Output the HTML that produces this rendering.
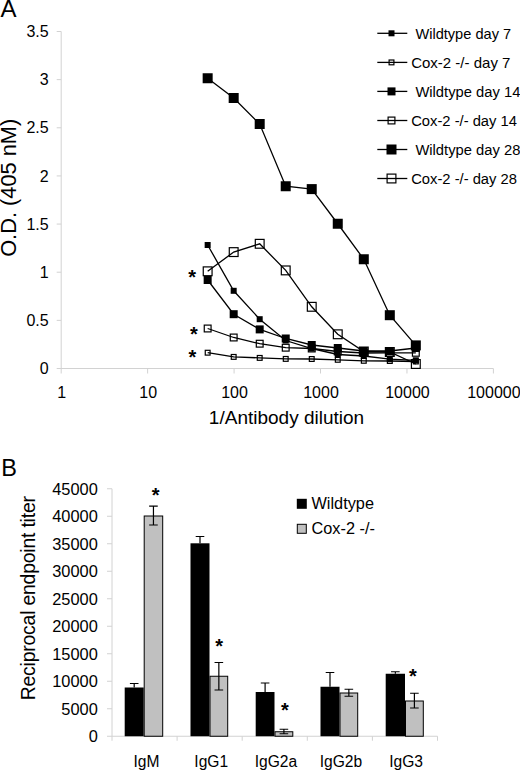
<!DOCTYPE html>
<html><head><meta charset="utf-8"><title>Figure</title>
<style>
html,body{margin:0;padding:0;background:#fff;}
body{width:520px;height:770px;overflow:hidden;}
svg{display:block;}
text{font-family:"Liberation Sans",sans-serif;fill:#000;}
</style></head><body>
<svg width="520" height="770" viewBox="0 0 520 770">
<rect width="520" height="770" fill="#fff"/>
<g stroke="#d2d2d2" stroke-width="1" fill="none">
<path d="M61.2 31.5 V373.5"/>
<path d="M56.7 368.5 H493.4"/>
<path d="M56.7 320.36 H61.2"/>
<path d="M56.7 272.21 H61.2"/>
<path d="M56.7 224.07 H61.2"/>
<path d="M56.7 175.93 H61.2"/>
<path d="M56.7 127.79 H61.2"/>
<path d="M56.7 79.64 H61.2"/>
<path d="M56.7 31.50 H61.2"/>
<path d="M147.64 368.5 V373.5"/>
<path d="M234.08 368.5 V373.5"/>
<path d="M320.52 368.5 V373.5"/>
<path d="M406.96 368.5 V373.5"/>
<path d="M493.40 368.5 V373.5"/>
</g>
<g font-size="16" text-anchor="end">
<text x="48.7" y="374.20">0</text>
<text x="48.7" y="326.06">0.5</text>
<text x="48.7" y="277.91">1</text>
<text x="48.7" y="229.77">1.5</text>
<text x="48.7" y="181.63">2</text>
<text x="48.7" y="133.49">2.5</text>
<text x="48.7" y="85.34">3</text>
<text x="48.7" y="37.20">3.5</text>
</g>
<g font-size="16" text-anchor="middle">
<text x="61.70" y="397.6">1</text>
<text x="148.14" y="397.6">10</text>
<text x="234.58" y="397.6">100</text>
<text x="321.02" y="397.6">1000</text>
<text x="407.46" y="397.6">10000</text>
<text x="493.90" y="397.6">100000</text>
</g>
<text x="286.5" y="423.6" font-size="19" text-anchor="middle">1/Antibody dilution</text>
<text transform="translate(16.2,187.8) rotate(-90)" font-size="21.8" text-anchor="middle">O.D. (405 nM)</text>
<text x="0.5" y="17.2" font-size="24">A</text>
<polyline points="207.66,352.70 233.68,356.90 259.70,357.90 285.72,358.90 311.74,359.00 337.76,359.80 363.79,360.80 389.81,361.00 415.83,361.50" fill="none" stroke="#000" stroke-width="1.3"/>
<rect x="205.26" y="350.30" width="4.8" height="4.8" fill="none" stroke="#000" stroke-width="1.2"/>
<rect x="231.28" y="354.50" width="4.8" height="4.8" fill="none" stroke="#000" stroke-width="1.2"/>
<rect x="257.30" y="355.50" width="4.8" height="4.8" fill="none" stroke="#000" stroke-width="1.2"/>
<rect x="283.32" y="356.50" width="4.8" height="4.8" fill="none" stroke="#000" stroke-width="1.2"/>
<rect x="309.34" y="356.60" width="4.8" height="4.8" fill="none" stroke="#000" stroke-width="1.2"/>
<rect x="335.36" y="357.40" width="4.8" height="4.8" fill="none" stroke="#000" stroke-width="1.2"/>
<rect x="361.39" y="358.40" width="4.8" height="4.8" fill="none" stroke="#000" stroke-width="1.2"/>
<rect x="387.41" y="358.60" width="4.8" height="4.8" fill="none" stroke="#000" stroke-width="1.2"/>
<rect x="413.43" y="359.10" width="4.8" height="4.8" fill="none" stroke="#000" stroke-width="1.2"/>
<polyline points="207.66,245.00 233.68,290.80 259.70,319.20 285.72,340.50 311.74,348.50 337.76,354.50 363.79,356.00 389.81,359.20 415.83,360.30" fill="none" stroke="#000" stroke-width="1.3"/>
<rect x="204.66" y="242.00" width="6" height="6" fill="#000"/>
<rect x="230.68" y="287.80" width="6" height="6" fill="#000"/>
<rect x="256.70" y="316.20" width="6" height="6" fill="#000"/>
<rect x="282.72" y="337.50" width="6" height="6" fill="#000"/>
<rect x="308.74" y="345.50" width="6" height="6" fill="#000"/>
<rect x="334.76" y="351.50" width="6" height="6" fill="#000"/>
<rect x="360.79" y="353.00" width="6" height="6" fill="#000"/>
<rect x="386.81" y="356.20" width="6" height="6" fill="#000"/>
<rect x="412.83" y="357.30" width="6" height="6" fill="#000"/>
<polyline points="207.66,328.50 233.68,337.50 259.70,343.70 285.72,347.70 311.74,348.50 337.76,351.50 363.79,353.00 389.81,352.80 415.83,352.80" fill="none" stroke="#000" stroke-width="1.3"/>
<rect x="204.26" y="325.10" width="6.8" height="6.8" fill="none" stroke="#000" stroke-width="1.2"/>
<rect x="230.28" y="334.10" width="6.8" height="6.8" fill="none" stroke="#000" stroke-width="1.2"/>
<rect x="256.30" y="340.30" width="6.8" height="6.8" fill="none" stroke="#000" stroke-width="1.2"/>
<rect x="282.32" y="344.30" width="6.8" height="6.8" fill="none" stroke="#000" stroke-width="1.2"/>
<rect x="308.34" y="345.10" width="6.8" height="6.8" fill="none" stroke="#000" stroke-width="1.2"/>
<rect x="334.36" y="348.10" width="6.8" height="6.8" fill="none" stroke="#000" stroke-width="1.2"/>
<rect x="360.39" y="349.60" width="6.8" height="6.8" fill="none" stroke="#000" stroke-width="1.2"/>
<rect x="386.41" y="349.40" width="6.8" height="6.8" fill="none" stroke="#000" stroke-width="1.2"/>
<rect x="412.43" y="349.40" width="6.8" height="6.8" fill="none" stroke="#000" stroke-width="1.2"/>
<polyline points="207.66,280.00 233.68,314.20 259.70,329.40 285.72,338.50 311.74,345.00 337.76,348.00 363.79,351.00 389.81,351.00 415.83,348.00" fill="none" stroke="#000" stroke-width="1.3"/>
<rect x="203.66" y="276.00" width="8" height="8" fill="#000"/>
<rect x="229.68" y="310.20" width="8" height="8" fill="#000"/>
<rect x="255.70" y="325.40" width="8" height="8" fill="#000"/>
<rect x="281.72" y="334.50" width="8" height="8" fill="#000"/>
<rect x="307.74" y="341.00" width="8" height="8" fill="#000"/>
<rect x="333.76" y="344.00" width="8" height="8" fill="#000"/>
<rect x="359.79" y="347.00" width="8" height="8" fill="#000"/>
<rect x="385.81" y="347.00" width="8" height="8" fill="#000"/>
<rect x="411.83" y="344.00" width="8" height="8" fill="#000"/>
<polyline points="207.66,271.30 233.68,252.10 259.70,243.80 285.72,270.40 311.74,306.80 337.76,334.30 363.79,351.50 389.81,352.00 415.83,364.00" fill="none" stroke="#000" stroke-width="1.3"/>
<rect x="203.26" y="266.90" width="8.8" height="8.8" fill="none" stroke="#000" stroke-width="1.2"/>
<rect x="229.28" y="247.70" width="8.8" height="8.8" fill="none" stroke="#000" stroke-width="1.2"/>
<rect x="255.30" y="239.40" width="8.8" height="8.8" fill="none" stroke="#000" stroke-width="1.2"/>
<rect x="281.32" y="266.00" width="8.8" height="8.8" fill="none" stroke="#000" stroke-width="1.2"/>
<rect x="307.34" y="302.40" width="8.8" height="8.8" fill="none" stroke="#000" stroke-width="1.2"/>
<rect x="333.36" y="329.90" width="8.8" height="8.8" fill="none" stroke="#000" stroke-width="1.2"/>
<rect x="359.39" y="347.10" width="8.8" height="8.8" fill="none" stroke="#000" stroke-width="1.2"/>
<rect x="385.41" y="347.60" width="8.8" height="8.8" fill="none" stroke="#000" stroke-width="1.2"/>
<rect x="411.43" y="359.60" width="8.8" height="8.8" fill="none" stroke="#000" stroke-width="1.2"/>
<polyline points="207.66,78.25 233.68,98.00 259.70,124.00 285.72,186.25 311.74,189.10 337.76,223.75 363.79,259.25 389.81,315.20 415.83,345.40" fill="none" stroke="#000" stroke-width="1.3"/>
<rect x="202.66" y="73.25" width="10" height="10" fill="#000"/>
<rect x="228.68" y="93.00" width="10" height="10" fill="#000"/>
<rect x="254.70" y="119.00" width="10" height="10" fill="#000"/>
<rect x="280.72" y="181.25" width="10" height="10" fill="#000"/>
<rect x="306.74" y="184.10" width="10" height="10" fill="#000"/>
<rect x="332.76" y="218.75" width="10" height="10" fill="#000"/>
<rect x="358.79" y="254.25" width="10" height="10" fill="#000"/>
<rect x="384.81" y="310.20" width="10" height="10" fill="#000"/>
<rect x="410.83" y="340.40" width="10" height="10" fill="#000"/>
<text x="192.1" y="283.7" font-size="20" font-weight="bold" text-anchor="middle">*</text>
<text x="193.8" y="340.5" font-size="20" font-weight="bold" text-anchor="middle">*</text>
<text x="192.5" y="363.9" font-size="20" font-weight="bold" text-anchor="middle">*</text>
<path d="M377.3 33.3 H407.3" stroke="#000" stroke-width="1.3"/>
<rect x="388.50" y="30.30" width="6" height="6" fill="#000"/>
<text x="415.4" y="38.50" font-size="14.6">Wildtype day 7</text>
<path d="M377.3 62.4 H407.3" stroke="#000" stroke-width="1.3"/>
<rect x="389.10" y="60.00" width="4.8" height="4.8" fill="none" stroke="#000" stroke-width="1.2"/>
<text x="411.2" y="67.60" font-size="15.0">Cox-2 -/- day 7</text>
<path d="M377.3 91.4 H407.3" stroke="#000" stroke-width="1.3"/>
<rect x="387.50" y="87.40" width="8" height="8" fill="#000"/>
<text x="415.4" y="96.60" font-size="14.75">Wildtype day 14</text>
<path d="M377.3 120.5 H407.3" stroke="#000" stroke-width="1.3"/>
<rect x="388.10" y="117.10" width="6.8" height="6.8" fill="none" stroke="#000" stroke-width="1.2"/>
<text x="411.2" y="125.70" font-size="14.75">Cox-2 -/- day 14</text>
<path d="M377.3 149.5 H407.3" stroke="#000" stroke-width="1.3"/>
<rect x="386.50" y="144.50" width="10" height="10" fill="#000"/>
<text x="415.4" y="154.70" font-size="14.75">Wildtype day 28</text>
<path d="M377.3 178.5 H407.3" stroke="#000" stroke-width="1.3"/>
<rect x="387.10" y="174.10" width="8.8" height="8.8" fill="none" stroke="#000" stroke-width="1.2"/>
<text x="411.2" y="183.70" font-size="14.75">Cox-2 -/- day 28</text>
<g stroke="#d2d2d2" stroke-width="1" fill="none">
<path d="M112 488.75 V740.75"/>
<path d="M107 736.25 H437.5"/>
<path d="M107 708.75 H112"/>
<path d="M107 681.25 H112"/>
<path d="M107 653.75 H112"/>
<path d="M107 626.25 H112"/>
<path d="M107 598.75 H112"/>
<path d="M107 571.25 H112"/>
<path d="M107 543.75 H112"/>
<path d="M107 516.25 H112"/>
<path d="M107 488.75 H112"/>
<path d="M177.10 736.25 V740.75"/>
<path d="M242.20 736.25 V740.75"/>
<path d="M307.30 736.25 V740.75"/>
<path d="M372.40 736.25 V740.75"/>
<path d="M437.50 736.25 V740.75"/>
</g>
<g font-size="16.4" text-anchor="end">
<text x="97.8" y="742.15">0</text>
<text x="97.8" y="714.65">5000</text>
<text x="97.8" y="687.15">10000</text>
<text x="97.8" y="659.65">15000</text>
<text x="97.8" y="632.15">20000</text>
<text x="97.8" y="604.65">25000</text>
<text x="97.8" y="577.15">30000</text>
<text x="97.8" y="549.65">35000</text>
<text x="97.8" y="522.15">40000</text>
<text x="97.8" y="494.65">45000</text>
</g>
<text transform="translate(34.9,598.3) rotate(-90)" font-size="19.4" letter-spacing="-0.2" text-anchor="middle">Reciprocal endpoint titer</text>
<text x="1.2" y="476.3" font-size="23.5">B</text>
<rect x="124.7" y="687.5" width="18.999999999999986" height="48.75" fill="#000"/>
<rect x="144.2" y="516.0" width="18.5" height="220.25" fill="#c0c0c0" stroke="#000" stroke-width="1"/>
<path d="M134.2 687.5 V683.5 M129.89999999999998 683.5 H138.5" stroke="#000" stroke-width="1.2" fill="none"/>
<path d="M153.45 525.0 V506.1 M149.14999999999998 506.1 H157.75 M149.14999999999998 525.0 H157.75" stroke="#000" stroke-width="1.2" fill="none"/>
<rect x="190.5" y="543.3" width="19.0" height="192.95000000000005" fill="#000"/>
<rect x="210.0" y="676.25" width="17.69999999999999" height="60.0" fill="#c0c0c0" stroke="#000" stroke-width="1"/>
<path d="M200.0 543.3 V536.5 M195.7 536.5 H204.3" stroke="#000" stroke-width="1.2" fill="none"/>
<path d="M218.85 690.0 V662.5 M214.54999999999998 662.5 H223.15 M214.54999999999998 690.0 H223.15" stroke="#000" stroke-width="1.2" fill="none"/>
<rect x="255.7" y="692.0" width="18.80000000000001" height="44.25" fill="#000"/>
<rect x="275.0" y="731.75" width="17.80000000000001" height="4.5" fill="#c0c0c0" stroke="#000" stroke-width="1"/>
<path d="M265.1 692.0 V683.0 M260.8 683.0 H269.40000000000003" stroke="#000" stroke-width="1.2" fill="none"/>
<path d="M283.9 733.75 V729.25 M279.59999999999997 729.25 H288.2 M279.59999999999997 733.75 H288.2" stroke="#000" stroke-width="1.2" fill="none"/>
<rect x="320.5" y="686.75" width="19.0" height="49.5" fill="#000"/>
<rect x="340.0" y="693.0" width="17.69999999999999" height="43.25" fill="#c0c0c0" stroke="#000" stroke-width="1"/>
<path d="M330.0 686.75 V672.5 M325.7 672.5 H334.3" stroke="#000" stroke-width="1.2" fill="none"/>
<path d="M348.85 696.25 V689.25 M344.55 689.25 H353.15000000000003 M344.55 696.25 H353.15000000000003" stroke="#000" stroke-width="1.2" fill="none"/>
<rect x="385.7" y="673.75" width="19.30000000000001" height="62.5" fill="#000"/>
<rect x="405.5" y="701.0" width="17.80000000000001" height="35.25" fill="#c0c0c0" stroke="#000" stroke-width="1"/>
<path d="M395.35 673.75 V671.75 M391.05 671.75 H399.65000000000003" stroke="#000" stroke-width="1.2" fill="none"/>
<path d="M414.4 708.0 V693.25 M410.09999999999997 693.25 H418.7 M410.09999999999997 708.0 H418.7" stroke="#000" stroke-width="1.2" fill="none"/>
<text x="155.6" y="502.2" font-size="20" font-weight="bold" text-anchor="middle">*</text>
<text x="219.25" y="653.25" font-size="20" font-weight="bold" text-anchor="middle">*</text>
<text x="285" y="717.0" font-size="20" font-weight="bold" text-anchor="middle">*</text>
<text x="413" y="682.75" font-size="20" font-weight="bold" text-anchor="middle">*</text>
<g font-size="15.6" text-anchor="middle">
<text x="146.5" y="766.6">IgM</text>
<text x="211.25" y="766.6">IgG1</text>
<text x="275.9" y="766.6">IgG2a</text>
<text x="340.9" y="766.6">IgG2b</text>
<text x="406.1" y="766.6">IgG3</text>
</g>
<rect x="296.8" y="498.8" width="10" height="10" fill="#000"/>
<rect x="297.3" y="524.3" width="9" height="9" fill="#c0c0c0" stroke="#000" stroke-width="1"/>
<text x="311.5" y="509.3" font-size="16.3">Wildtype</text>
<text x="311.5" y="534.3" font-size="16.3">Cox-2 -/-</text>
</svg>
</body></html>
